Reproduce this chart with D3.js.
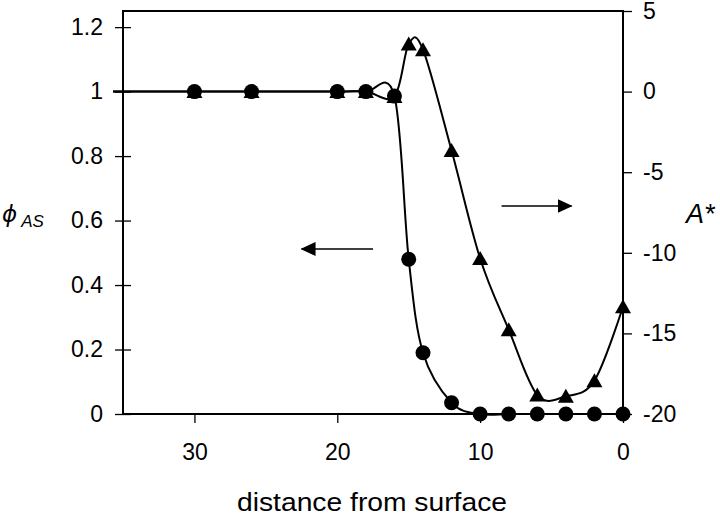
<!DOCTYPE html>
<html>
<head>
<meta charset="utf-8">
<script src="https://cdn.jsdelivr.net/npm/d3@7"></script>
<style>
  body { margin: 0; background: #fff; }
  svg { display: block; font-family: "Liberation Sans", Arial, sans-serif; }
</style>
</head>
<body>
<svg width="720" height="519"></svg>
<script>
// data
var distance = [40, 30, 26, 20, 18, 16, 15, 14, 12, 10, 8, 6, 4, 2, 0]
var phiAS    = [1, 1, 1, 1, 1, 0.986, 0.48, 0.19, 0.035, 0, 0, 0, 0, 0, 0]
var aStar    = [0, 0, 0, 0, 0, -0.3, 2.95, 2.6, -3.66, -10.35, -14.77, -18.82, -18.9, -17.93, -13.35]

var xTicks = [30, 20, 10, 0]
var leftTicks = [0, 0.2, 0.4, 0.6, 0.8, 1, 1.2]
var rightTicks = [-20, -15, -10, -5, 0, 5]

// arrows: [from distance, to distance, level]
var leftArrow = [17.5, 22.5, 0.512]
var rightArrow = [8.5, 3.6, -7.1]

var width = 720, height = 519
var margin = {top: 11, right: 97, bottom: 105, left: 123}

var svg = d3.select("svg")

var x = d3.scaleLinear().domain([35, 0]).range([margin.left, width - margin.right])
var yL = d3.scaleLinear().domain([0, 1.25]).range([height - margin.bottom, margin.top])
var yR = d3.scaleLinear().domain([-20, 5]).range([height - margin.bottom, margin.top])

var points = distance.map((d, i) => ({d: d, phi: phiAS[i], a: aStar[i]}))

svg.append("defs").append("clipPath")
    .attr("id", "plot")
  .append("rect")
    .attr("x", margin.left - 10)
    .attr("y", 0)
    .attr("width", width - margin.left - margin.right + 20)
    .attr("height", height)

svg.select("defs").append("marker")
    .attr("id", "head")
    .attr("viewBox", "0 0 15 14")
    .attr("refX", 14)
    .attr("refY", 7)
    .attr("markerWidth", 15)
    .attr("markerHeight", 14)
    .attr("markerUnits", "userSpaceOnUse")
    .attr("orient", "auto")
  .append("path")
    .attr("d", "M0,0L15,7L0,14Z")
    .attr("fill", "#000")

// axes
var fs = "23px"
var plain = d => String(d)

var xAxis = svg.append("g")
    .attr("transform", `translate(0,${height - margin.bottom})`)
    .call(d3.axisBottom(x).tickValues(xTicks).tickSize(9).tickPadding(21).tickFormat(plain))
xAxis.select(".domain").remove()

var leftAxis = svg.append("g")
    .attr("transform", `translate(${margin.left},0)`)
    .call(d3.axisLeft(yL).tickValues(leftTicks).tickSize(8).tickPadding(12).tickFormat(plain))
leftAxis.select(".domain").remove()
leftAxis.selectAll(".tick line").attr("x2", -8).attr("x1", 8)

var rightAxis = svg.append("g")
    .attr("transform", `translate(${width - margin.right},0)`)
    .call(d3.axisRight(yR).tickValues(rightTicks).tickSize(9).tickPadding(11).tickFormat(plain))
rightAxis.select(".domain").remove()

svg.selectAll(".tick text")
    .attr("font-size", fs)
    .attr("font-family", "Liberation Sans, Arial, sans-serif")
    .attr("fill", "#000")
svg.selectAll(".tick line").attr("stroke", "#000").attr("stroke-width", 1.3)

// plot box
svg.append("rect")
    .attr("x", margin.left)
    .attr("y", margin.top)
    .attr("width", width - margin.left - margin.right)
    .attr("height", height - margin.top - margin.bottom)
    .attr("fill", "none")
    .attr("stroke", "#000")
    .attr("stroke-width", 2)

var plot = svg.append("g").attr("clip-path", "url(#plot)")

var lineA = d3.line().x(d => x(d.d)).y(d => yR(d.a)).curve(d3.curveCardinal.tension(0))
var lineP = d3.line().x(d => x(d.d)).y(d => yL(d.phi)).curve(d3.curveCardinal.tension(0))

plot.append("path")
    .datum(points)
    .attr("d", lineA)
    .attr("fill", "none")
    .attr("stroke", "#000")
    .attr("stroke-width", 2)

plot.append("path")
    .datum(points)
    .attr("d", lineP)
    .attr("fill", "none")
    .attr("stroke", "#000")
    .attr("stroke-width", 2)

var visible = points.filter(d => d.d <= 35)

plot.selectAll(".tri")
    .data(visible)
    .enter()
    .append("path")
      .classed("tri", true)
      .attr("transform", d => `translate(${x(d.d)},${yR(d.a)})`)
      .attr("d", "M0,-7.5L8,6.5L-8,6.5Z")
      .attr("fill", "#000")

plot.selectAll(".dot")
    .data(visible)
    .enter()
    .append("circle")
      .classed("dot", true)
      .attr("cx", d => x(d.d))
      .attr("cy", d => yL(d.phi))
      .attr("r", 7.5)
      .attr("fill", "#000")

// arrows
svg.append("line")
    .attr("x1", x(leftArrow[0])).attr("x2", x(leftArrow[1]))
    .attr("y1", yL(leftArrow[2])).attr("y2", yL(leftArrow[2]))
    .attr("stroke", "#000").attr("stroke-width", 1.6)
    .attr("marker-end", "url(#head)")

svg.append("line")
    .attr("x1", x(rightArrow[0])).attr("x2", x(rightArrow[1]))
    .attr("y1", yR(rightArrow[2])).attr("y2", yR(rightArrow[2]))
    .attr("stroke", "#000").attr("stroke-width", 1.6)
    .attr("marker-end", "url(#head)")

// labels
svg.append("text")
    .attr("x", 237)
    .attr("y", 511)
    .attr("font-size", "25px")
    .attr("textLength", 270)
    .attr("lengthAdjust", "spacingAndGlyphs")
    .text("distance from surface")

var phiLabel = svg.append("text")
    .attr("x", 2)
    .attr("y", 222)
    .attr("font-style", "italic")
phiLabel.append("tspan").attr("font-size", "23px").attr("font-family", "DejaVu Sans").text("ϕ")
phiLabel.append("tspan").attr("font-size", "17px").attr("dx", 4).attr("dy", 5).text("AS")

svg.append("text")
    .attr("x", 686)
    .attr("y", 223)
    .attr("font-style", "italic")
    .attr("font-size", "27px")
    .text("A*")
</script>
</body>
</html>
